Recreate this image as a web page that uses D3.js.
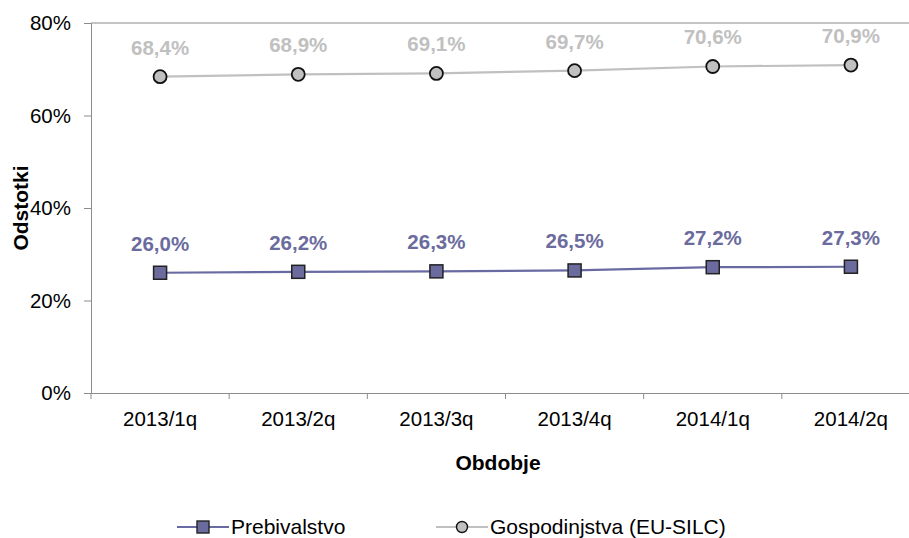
<!DOCTYPE html>
<html><head><meta charset="utf-8">
<script src="https://cdn.jsdelivr.net/npm/d3@7"></script>
<style>body{margin:0;background:#fff;}svg{display:block;font-family:"Liberation Sans",Arial,sans-serif;}</style>
</head><body>
<svg id="c" width="909" height="538"></svg>
<script>
const categories = ["2013/1q","2013/2q","2013/3q","2013/4q","2014/1q","2014/2q"];
const prebivalstvo = [26.0, 26.2, 26.3, 26.5, 27.2, 27.3];
const gospodinjstva = [68.4, 68.9, 69.1, 69.7, 70.6, 70.9];
const yTicks = [0, 20, 40, 60, 80];
const seriesNames = ["Prebivalstvo", "Gospodinjstva (EU-SILC)"];

const FF = "Liberation Sans, Arial, sans-serif";
const svg = d3.select("#c");
const L = 91, R = 920, T = 23, B = 393;
const x = d3.scaleBand().domain(categories).range([L, R]);
const y = d3.scaleLinear().domain([0, 80]).range([B, T]);
const axisColor = "#8c8c8c";

// top border line at 80%
svg.append("line").attr("x1", L).attr("x2", R).attr("y1", y(80)).attr("y2", y(80))
  .attr("stroke", axisColor).attr("stroke-width", 1);

// y axis
const ya = svg.append("g").attr("transform", `translate(${L},0)`)
  .call(d3.axisLeft(y).tickValues(yTicks).tickSize(7).tickPadding(13).tickFormat(d => d + "%"));
ya.attr("font-size", null).attr("font-family", null);
ya.select(".domain").attr("stroke", axisColor);
ya.selectAll(".tick line").attr("stroke", axisColor);
ya.selectAll("text").attr("font-size", "20.5px").attr("fill", "#000").attr("font-family", FF);

// x axis
const xa = svg.append("g").attr("transform", `translate(0,${B})`)
  .call(d3.axisBottom(x).tickSize(0).tickPadding(18.5));
xa.attr("font-size", null).attr("font-family", null);
xa.select(".domain").attr("stroke", axisColor);
xa.selectAll("text").attr("font-size", "20.5px").attr("fill", "#000").attr("font-family", FF);
// ticks between categories
const bounds = categories.map((c) => x(c)).concat([x(categories[categories.length-1]) + x.bandwidth()]);
svg.append("g").selectAll("line").data(bounds).join("line")
  .attr("x1", d => d).attr("x2", d => d).attr("y1", B).attr("y2", B + 6)
  .attr("stroke", axisColor);

// axis titles
svg.append("text").attr("x", 498).attr("y", 470).attr("text-anchor", "middle")
  .attr("font-size", "21px").attr("font-weight", "bold").text("Obdobje");
svg.append("text").attr("transform", `translate(27.5,${(T+B)/2}) rotate(-90)`).attr("text-anchor", "middle")
  .attr("font-size", "21px").attr("font-weight", "bold").text("Odstotki");

const cx = c => x(c) + x.bandwidth() / 2;
const fmt = v => v.toFixed(1).replace(".", ",") + "%";

// Gospodinjstva series
const gColor = "#c0c0c0";
svg.append("path").datum(gospodinjstva)
  .attr("d", d3.line().x((d, i) => cx(categories[i])).y(d => y(d)))
  .attr("fill", "none").attr("stroke", gColor).attr("stroke-width", 2.2);
svg.append("g").selectAll("circle").data(gospodinjstva).join("circle")
  .attr("cx", (d, i) => cx(categories[i])).attr("cy", d => y(d)).attr("r", 6.5)
  .attr("fill", gColor).attr("stroke", "#111").attr("stroke-width", 1.8);
svg.append("g").selectAll("text").data(gospodinjstva).join("text")
  .attr("x", (d, i) => cx(categories[i])).attr("y", d => y(d) - 22)
  .attr("text-anchor", "middle").attr("font-size", "20.5px").attr("font-weight", "bold")
  .attr("fill", gColor).text(d => fmt(d));

// Prebivalstvo series
const pLine = "#6a6aa3", pFill = "#6b6b9e";
svg.append("path").datum(prebivalstvo)
  .attr("d", d3.line().x((d, i) => cx(categories[i])).y(d => y(d)))
  .attr("fill", "none").attr("stroke", pLine).attr("stroke-width", 2.2);
svg.append("g").selectAll("rect").data(prebivalstvo).join("rect")
  .attr("x", (d, i) => cx(categories[i]) - 6.5).attr("y", d => y(d) - 6.5)
  .attr("width", 13).attr("height", 13)
  .attr("fill", pFill).attr("stroke", "#222").attr("stroke-width", 1.5);
svg.append("g").selectAll("text").data(prebivalstvo).join("text")
  .attr("x", (d, i) => cx(categories[i])).attr("y", d => y(d) - 22)
  .attr("text-anchor", "middle").attr("font-size", "20.5px").attr("font-weight", "bold")
  .attr("fill", pFill).text(d => fmt(d));

// legend
const ly = 527;
const lg = svg.append("g");
lg.append("line").attr("x1", 177).attr("x2", 229).attr("y1", ly).attr("y2", ly).attr("stroke", pLine).attr("stroke-width", 2.2);
lg.append("rect").attr("x", 203 - 6).attr("y", ly - 6).attr("width", 12).attr("height", 12)
  .attr("fill", pFill).attr("stroke", "#222").attr("stroke-width", 1.4);
lg.append("text").attr("x", 231).attr("y", ly + 7).attr("font-size", "21px").text(seriesNames[0]);
lg.append("line").attr("x1", 436).attr("x2", 488).attr("y1", ly).attr("y2", ly).attr("stroke", gColor).attr("stroke-width", 2.2);
lg.append("circle").attr("cx", 462).attr("cy", ly).attr("r", 5.5)
  .attr("fill", gColor).attr("stroke", "#111").attr("stroke-width", 1.4);
lg.append("text").attr("x", 490).attr("y", ly + 7).attr("font-size", "21px").text(seriesNames[1]);
</script>
</body></html>
